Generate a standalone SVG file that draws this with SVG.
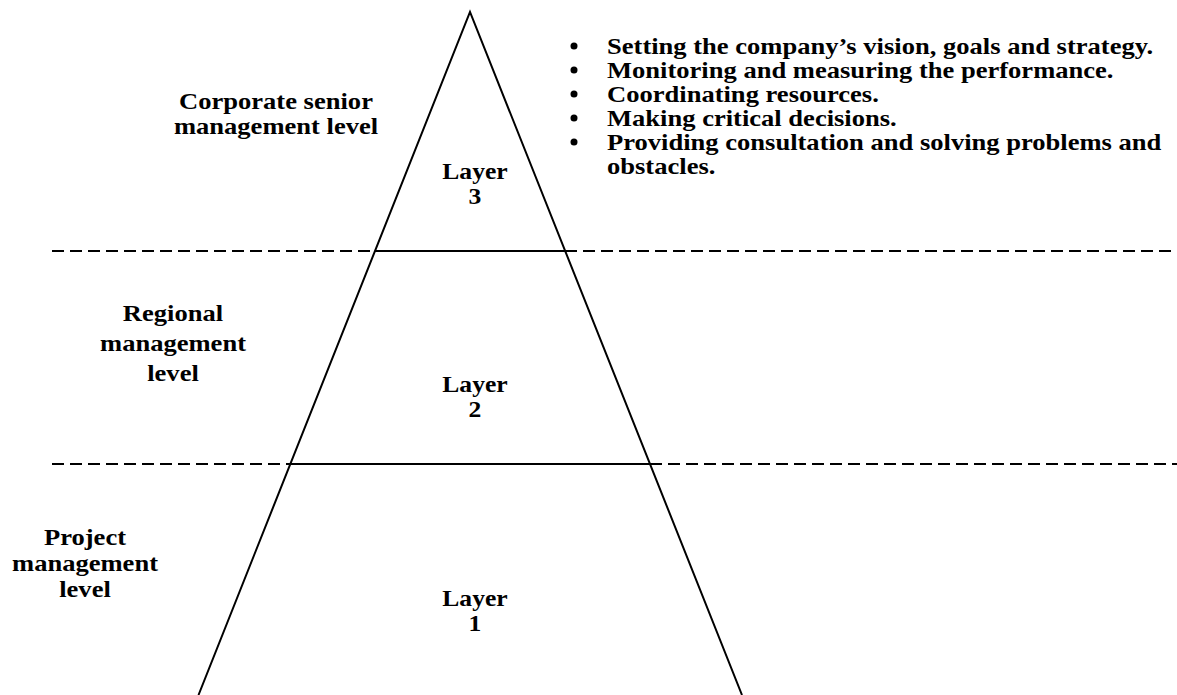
<svg xmlns="http://www.w3.org/2000/svg" width="1177" height="695" viewBox="0 0 1177 695">
<style>
.t{font-family:"Liberation Serif","Times New Roman",serif;font-weight:bold;font-size:23.5px;fill:#000}
.c{text-anchor:middle}
.ln{stroke:#000;stroke-width:2;fill:none}
.d{stroke:#000;stroke-width:2;stroke-dasharray:12,6;fill:none}
</style>
<rect width="1177" height="695" fill="#fff"/>
<g id="connectors">
<line class="d" x1="52" y1="251" x2="375" y2="251"/>
<line class="d" x1="565" y1="251" x2="1177" y2="251"/>
<line class="d" x1="52" y1="464" x2="290" y2="464"/>
<line class="d" x1="650" y1="464" x2="1177" y2="464"/>
</g>
<g id="pyramid">
<polyline class="ln" points="198.5,695 470,12 742,695"/>
<line class="ln" x1="375" y1="251" x2="565" y2="251"/>
<line class="ln" x1="290" y1="464" x2="650" y2="464"/>
</g>
<g id="layer3" transform="translate(475,0) scale(1.09,1)">
<text class="t c" x="0" y="179">Layer</text>
<text class="t c" x="0" y="204">3</text>
</g>
<g id="layer2" transform="translate(475,0) scale(1.09,1)">
<text class="t c" x="0" y="392">Layer</text>
<text class="t c" x="0" y="417">2</text>
</g>
<g id="layer1" transform="translate(475,0) scale(1.09,1)">
<text class="t c" x="0" y="606">Layer</text>
<text class="t c" x="0" y="631">1</text>
</g>
<g id="label-corporate" transform="translate(276,0) scale(1.13,1)">
<text class="t c" x="0" y="109">Corporate senior</text>
<text class="t c" x="0" y="134">management level</text>
</g>
<g id="label-regional" transform="translate(173,0) scale(1.13,1)">
<text class="t c" x="0" y="321">Regional</text>
<text class="t c" x="0" y="351">management</text>
<text class="t c" x="0" y="381">level</text>
</g>
<g id="label-project" transform="translate(85,0) scale(1.13,1)">
<text class="t c" x="0" y="545">Project</text>
<text class="t c" x="0" y="571">management</text>
<text class="t c" x="0" y="597">level</text>
</g>
<g id="bullets">
<circle cx="574" cy="46" r="3.5"/>
<circle cx="574" cy="70" r="3.5"/>
<circle cx="574" cy="94" r="3.5"/>
<circle cx="574" cy="118" r="3.5"/>
<circle cx="574" cy="142" r="3.5"/>
<g transform="translate(607,0) scale(1.13,1)">
<text class="t" x="0" y="54">Setting the company’s vision, goals and strategy.</text>
<text class="t" x="0" y="78">Monitoring and measuring the performance.</text>
<text class="t" x="0" y="102">Coordinating resources.</text>
<text class="t" x="0" y="126">Making critical decisions.</text>
<text class="t" x="0" y="150">Providing consultation and solving problems and</text>
<text class="t" x="0" y="174">obstacles.</text>
</g>
</g>
</svg>
